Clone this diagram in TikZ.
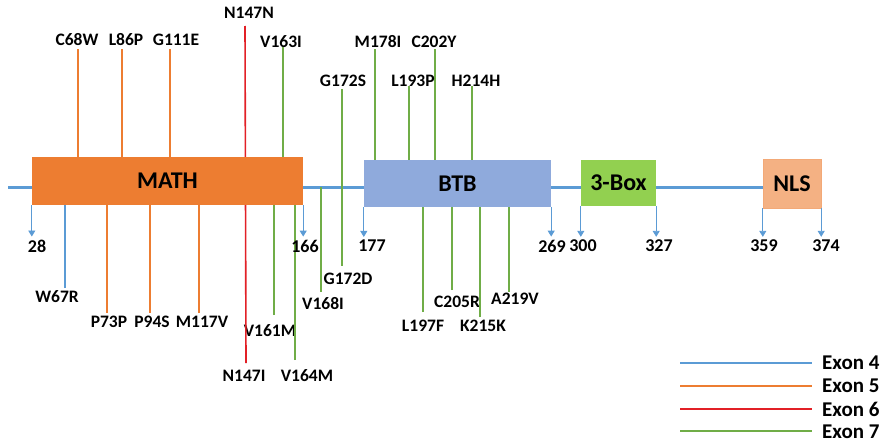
\documentclass[tikz,border=0pt]{standalone}
\usepackage{fontspec}
\setmainfont{Carlito}
\usetikzlibrary{arrows.meta}
\definecolor{blueL}{RGB}{91,155,213}
\definecolor{orangeL}{RGB}{237,125,49}
\definecolor{redL}{RGB}{226,32,38}
\definecolor{greenL}{RGB}{112,173,71}
\definecolor{mathfill}{RGB}{237,125,49}
\definecolor{btbfill}{RGB}{143,170,220}
\definecolor{boxfill}{RGB}{146,208,80}
\definecolor{nlsfill}{RGB}{244,177,131}
\tikzset{
  exA/.style={blueL, line width=1.3pt},
  exB/.style={orangeL, line width=1.3pt},
  exC/.style={redL, line width=1.6pt},
  exD/.style={greenL, line width=1.5pt},
  backbone/.style={blueL, line width=3pt},
  dom/.style={inner sep=0pt, font=\fontsize{24}{26}\selectfont\bfseries},
  lab/.style={inner sep=1pt, font=\fontsize{17.5}{19}\selectfont\bfseries},
  num/.style={inner sep=1pt, font=\fontsize{18}{20}\selectfont\bfseries},
  arr/.style={blueL, line width=0.9pt, -{Triangle[width=7pt,length=6pt]}, shorten >=2pt},
  leg/.style={inner sep=0pt, anchor=west, font=\fontsize{21}{23}\selectfont\bfseries},
}
\begin{document}
\begin{tikzpicture}[x=1pt,y=-1pt]
\useasboundingbox (0,0) rectangle (894,447);
% domain boxes (positions only, drawn later on top)
\path
  node[dom, minimum width=271pt, minimum height=48pt] (math) at (167.5,181) {}
  node[dom, minimum width=187pt, minimum height=47pt] (btb) at (457.5,183.5) {}
  node[dom, minimum width=75pt, minimum height=46pt] (tbox) at (618.5,183) {}
  node[dom, minimum width=58pt, minimum height=49pt] (nls) at (792,183.5) {};
% backbone
\coordinate (start) at (8,187);
\draw[backbone] (start) -- (start -| nls.west);

% mutations above MATH
\foreach \nm/\lx/\ly/\x/\y/\st in {C68W/77/40/78/49/exB, L86P/126/40/122/49/exB, G111E/176/40/170/49/exB, V163I/281/42/283/47/exD}{
  \node[lab] (\nm) at (\lx,\ly) {\nm};
  \coordinate (\nm-e) at (\x,\y);
  \draw[\st] (\nm-e) -- (\nm-e |- math.north);
}
% mutations above BTB
\foreach \nm/\lx/\ly/\x/\y in {M178I/378/42/375/49, C202Y/434/42/435/49, L193P/413/81/409/86, H214H/476/81/472/86}{
  \node[lab] (\nm) at (\lx,\ly) {\nm};
  \coordinate (\nm-e) at (\x,\y);
  \draw[exD] (\nm-e) -- (\nm-e |- btb.north);
}
% mutations below MATH
\foreach \nm/\lx/\ly/\x/\y/\st in {W67R/57/297/65/288/exA, P73P/109/322/107/313/exB, P94S/152/322/150/313/exB, M117V/202/322/199/313/exB, V161M/270/331/274/315/exD, V164M/307/376/295/360/exD}{
  \node[lab] (\nm) at (\lx,\ly) {\nm};
  \coordinate (\nm-e) at (\x,\y);
  \draw[\st] (\nm-e) -- (\nm-e |- math.south);
}
% mutations below BTB
\foreach \nm/\lx/\ly/\x/\y in {L197F/423/326/423/312, C205R/457/302/452/290, K215K/483/326/480/317, A219V/515/299/509/292}{
  \node[lab] (\nm) at (\lx,\ly) {\nm};
  \coordinate (\nm-e) at (\x,\y);
  \draw[exD] (\nm-e) -- (\nm-e |- btb.south);
}
% N147 (red, behind MATH)
\node[lab] (N147N) at (249,13) {N147N};
\node[lab] (N147I) at (244,376) {N147I};
\coordinate (N147-t) at (245,26);
\coordinate (N147-b) at (246,363);
\draw[exC] (N147-t) -- (N147-b);
% G172 (green, crossing backbone)
\node[lab] (G172S) at (343,81) {G172S};
\node[lab] (G172D) at (348,279) {G172D};
\coordinate (G172-t) at (342,89);
\coordinate (G172-b) at (342,266);
\draw[exD] (G172-t) -- (G172-b);
% V168I from backbone
\node[lab] (V168I) at (323,304) {V168I};
\coordinate (V168I-e) at (321,292);
\draw[exD] (V168I-e |- start) -- (V168I-e);

% boxes on top
\node[dom, fill=mathfill, minimum width=271pt, minimum height=48pt] at (math) {MATH};
\node[dom, fill=btbfill, minimum width=187pt, minimum height=47pt] at (btb) {BTB};
\node[dom, fill=boxfill, minimum width=75pt, minimum height=46pt] at (tbox) {3-Box};
\node[dom, fill=nlsfill, draw=nlsfill!85!orangeL, line width=0.6pt, minimum width=58pt, minimum height=49pt] at (nls) {NLS};

% position numbers
\node[num] (n28) at (37,246) {28};
\node[num] (n166) at (305,246) {166};
\node[num] (n177) at (372,246) {177};
\node[num] (n269) at (552,246) {269};
\node[num] (n300) at (583,246) {300};
\node[num] (n327) at (659,246) {327};
\node[num] (n359) at (764,246) {359};
\node[num] (n374) at (826,246) {374};
\draw[arr] (math.south west) -- (math.south west |- n28.north);
\draw[arr] (math.south east) -- (math.south east |- n166.north);
\draw[arr] (btb.south west) -- (btb.south west |- n177.north);
\draw[arr] (btb.south east) -- (btb.south east |- n269.north);
\draw[arr] (tbox.south west) -- (tbox.south west |- n300.north);
\draw[arr] (tbox.south east) -- (tbox.south east |- n327.north);
\draw[arr] (nls.south west) -- (nls.south west |- n359.north);
\draw[arr] (nls.south east) -- (nls.south east |- n374.north);

% legend
\node[leg] (l4) at (822,363) {Exon 4};
\node[leg] (l5) at (822,386) {Exon 5};
\node[leg] (l6) at (822,409) {Exon 6};
\node[leg] (l7) at (822,432) {Exon 7};
\coordinate (lg4) at (680,363);
\coordinate (lg5) at (680,386);
\coordinate (lg6) at (680,409);
\coordinate (lg7) at (680,431);
\coordinate (lg4e) at (812,363);
\coordinate (lg5e) at (812,386);
\coordinate (lg6e) at (812,409);
\coordinate (lg7e) at (812,431);
\draw[blueL, line width=1.2pt] (lg4) -- (lg4e);
\draw[orangeL, line width=1.2pt] (lg5) -- (lg5e);
\draw[redL, line width=1.4pt] (lg6) -- (lg6e);
\draw[greenL, line width=1.2pt] (lg7) -- (lg7e);
\end{tikzpicture}
\end{document}
